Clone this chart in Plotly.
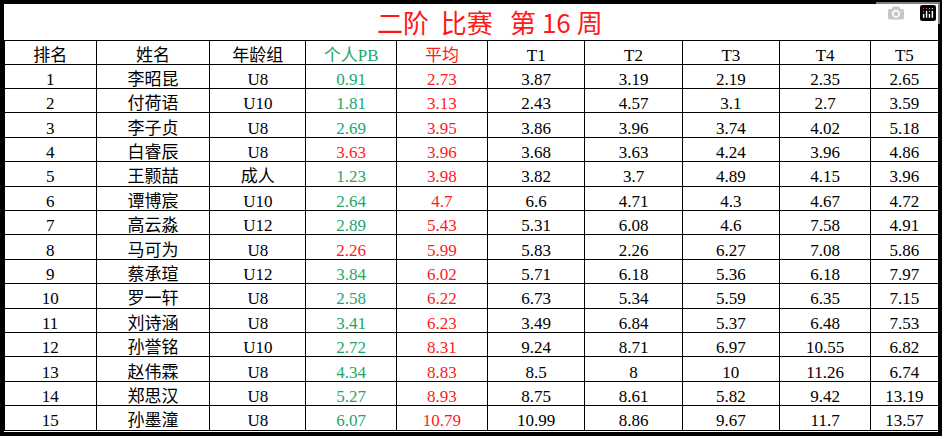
import plotly.graph_objects as go

headers = ["排名", "姓名", "年龄组", "个人PB", "平均", "T1", "T2", "T3", "T4", "T5"]
rank = list(range(1, 16))
names = ["李昭昆", "付荷语", "李子贞", "白睿辰", "王颢喆", "谭博宸", "高云淼", "马可为",
         "蔡承瑄", "罗一轩", "刘诗涵", "孙誉铭", "赵伟霖", "郑思汉", "孙墨潼"]
groups = ["U8", "U10", "U8", "U8", "成人", "U10", "U12", "U8", "U12", "U8", "U8", "U10", "U8", "U8", "U8"]
pb = ["0.91", "1.81", "2.69", "3.63", "1.23", "2.64", "2.89", "2.26", "3.84", "2.58", "3.41", "2.72", "4.34", "5.27", "6.07"]
avg = ["2.73", "3.13", "3.95", "3.96", "3.98", "4.7", "5.43", "5.99", "6.02", "6.22", "6.23", "8.31", "8.83", "8.93", "10.79"]
t1 = ["3.87", "2.43", "3.86", "3.68", "3.82", "6.6", "5.31", "5.83", "5.71", "6.73", "3.49", "9.24", "8.5", "8.75", "10.99"]
t2 = ["3.19", "4.57", "3.96", "3.63", "3.7", "4.71", "6.08", "2.26", "6.18", "5.34", "6.84", "8.71", "8", "8.61", "8.86"]
t3 = ["2.19", "3.1", "3.74", "4.24", "4.89", "4.3", "4.6", "6.27", "5.36", "5.59", "5.37", "6.97", "10", "5.82", "9.67"]
t4 = ["2.35", "2.7", "4.02", "3.96", "4.15", "4.67", "7.58", "7.08", "6.18", "6.35", "6.48", "10.55", "11.26", "9.42", "11.7"]
t5 = ["2.65", "3.59", "5.18", "4.86", "3.96", "4.72", "4.91", "5.86", "7.97", "7.15", "7.53", "6.82", "6.74", "13.19", "13.57"]
# PB cells that were set this week are red
pb_new = [False, False, False, True, False, False, False, True, False, False, False, False, False, False, False]

GREEN = "#1aa86a"
RED = "#ff1a1a"
pb_colors = [RED if n else GREEN for n in pb_new]
n = len(rank)
font_colors = [["black"] * n, ["black"] * n, ["black"] * n, pb_colors, [RED] * n] + [["black"] * n] * 5
head_colors = ["black", "black", "black", GREEN, RED] + ["black"] * 5

fam = "Liberation Serif, Noto Sans CJK SC"
widths = [92, 113, 96, 90, 91, 97, 97, 97, 91, 67]

fig = go.Figure(go.Table(
    columnwidth=widths,
    domain=dict(x=[4 / 942, 938 / 942], y=[6 / 441, 1 - 40 / 441]),
    header=dict(values=headers, height=24, align="center", fill_color="white",
                line=dict(color="black", width=1),
                font=dict(family=fam, size=17, color=head_colors)),
    cells=dict(values=[rank, names, groups, pb, avg, t1, t2, t3, t4, t5], height=24.4,
               align="center", fill_color="white", line=dict(color="black", width=1),
               font=dict(family=fam, size=17, color=font_colors)),
))

fig.add_annotation(text="二阶  比赛   第 16 周", x=490 / 942, y=1 - 22 / 441, xref="paper", yref="paper",
                   xanchor="center", yanchor="middle", showarrow=False,
                   font=dict(family="Noto Sans CJK SC", size=26, color=RED))
fig.add_shape(type="rect", xref="paper", yref="paper", x0=2 / 942, x1=940 / 942, y0=7 / 441, y1=1 - 2 / 441,
              line=dict(color="black", width=4))

fig.update_layout(width=942, height=441, margin=dict(l=0, r=0, t=0, b=0),
                  paper_bgcolor="white", plot_bgcolor="white")
fig.write_html("out.html", post_script="document.body.style.margin='0';")
